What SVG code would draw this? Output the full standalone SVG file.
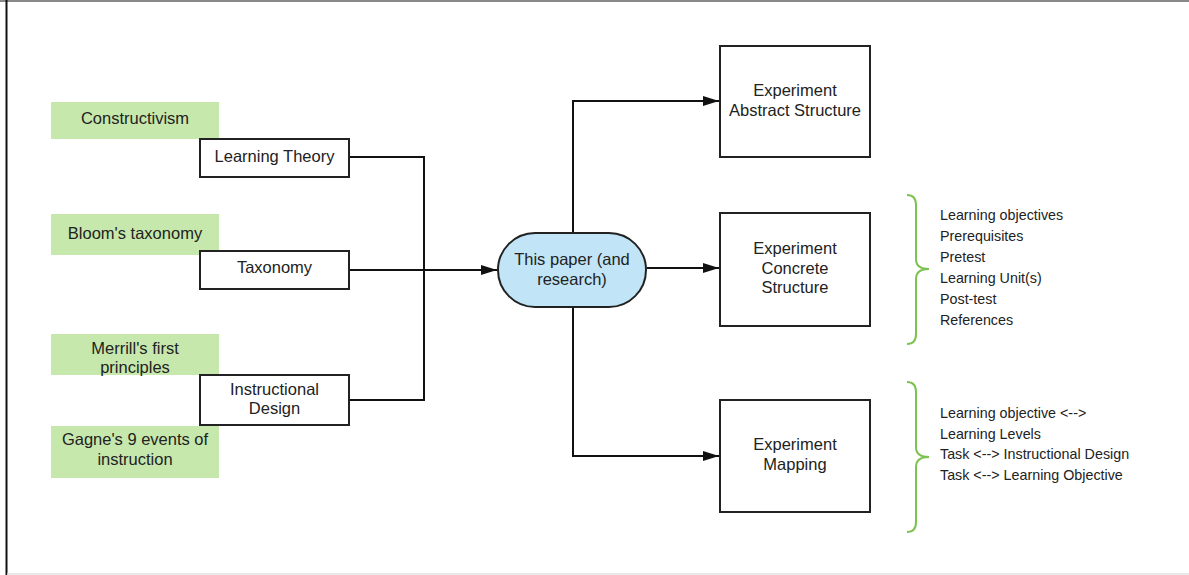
<svg xmlns="http://www.w3.org/2000/svg" width="1189" height="575" viewBox="0 0 1189 575">
<style>
  text { font-family: "Liberation Sans", Arial, sans-serif; fill: #222; }
  .t { font-size: 16.5px; text-anchor: middle; }
  .l { font-size: 14.3px; }
  .green { fill: #c7e8ac; stroke: none; }
  .box { fill: #fff; stroke: #222; stroke-width: 2; }
  .pill { fill: #c1e4f7; stroke: #222; stroke-width: 2; }
  .conn { fill: none; stroke: #111; stroke-width: 2; }
  .brace { fill: none; stroke: #7dc24f; stroke-width: 2; }
</style>
<defs>
  <marker id="arr" markerUnits="userSpaceOnUse" markerWidth="17" markerHeight="11" refX="16" refY="5" orient="auto">
    <path d="M0,0 L16,5 L0,10 z" fill="#111"/>
  </marker>
</defs>
<rect x="0" y="0" width="1189" height="575" fill="#fff"/>
<g id="frame">
  <line x1="0" y1="1" x2="1189" y2="1" stroke="#888" stroke-width="2"/>
  <line x1="6.5" y1="0" x2="6.5" y2="575" stroke="#111" stroke-width="2"/>
  <line x1="7" y1="574" x2="1189" y2="574" stroke="#e0e0e0" stroke-width="1.5"/>
</g>
<g id="connectors">
  <path class="conn" d="M349,157 H424 V400 H349"/>
  <path class="conn" d="M349,270 H497" marker-end="url(#arr)"/>
  <path class="conn" d="M573,233 V101 H719" marker-end="url(#arr)"/>
  <path class="conn" d="M647,268 H719" marker-end="url(#arr)"/>
  <path class="conn" d="M573,307 V456 H719" marker-end="url(#arr)"/>
</g>
<g id="constructivism">
  <rect class="green" x="51" y="102" width="168" height="37"/>
  <text class="t" x="135" y="124">Constructivism</text>
</g>
<g id="learning-theory">
  <rect class="box" x="200" y="139" width="149" height="38"/>
  <text class="t" x="274.5" y="162">Learning Theory</text>
</g>
<g id="blooms">
  <rect class="green" x="51" y="214" width="168" height="41"/>
  <text class="t" x="135" y="239">Bloom's taxonomy</text>
</g>
<g id="taxonomy">
  <rect class="box" x="200" y="251" width="149" height="38"/>
  <text class="t" x="274.5" y="273">Taxonomy</text>
</g>
<g id="merrill">
  <rect class="green" x="51" y="334" width="168" height="41"/>
  <text class="t" x="135" y="354">Merrill's first</text>
  <text class="t" x="135" y="373">principles</text>
</g>
<g id="instructional-design">
  <rect class="box" x="200" y="375" width="149" height="50"/>
  <text class="t" x="274.5" y="395">Instructional</text>
  <text class="t" x="274.5" y="414">Design</text>
</g>
<g id="gagne">
  <rect class="green" x="51" y="426" width="168" height="52"/>
  <text class="t" x="135" y="445">Gagne's 9 events of</text>
  <text class="t" x="135" y="465">instruction</text>
</g>
<g id="this-paper">
  <rect class="pill" x="498" y="233" width="148" height="74" rx="37" ry="37"/>
  <text class="t" x="572" y="265">This paper (and</text>
  <text class="t" x="572" y="285">research)</text>
</g>
<g id="abstract">
  <rect class="box" x="720" y="46" width="150" height="111"/>
  <text class="t" x="795" y="96">Experiment</text>
  <text class="t" x="795" y="116">Abstract Structure</text>
</g>
<g id="concrete">
  <rect class="box" x="720" y="213" width="150" height="113"/>
  <text class="t" x="795" y="254">Experiment</text>
  <text class="t" x="795" y="274">Concrete</text>
  <text class="t" x="795" y="293">Structure</text>
</g>
<g id="mapping">
  <rect class="box" x="720" y="400" width="150" height="112"/>
  <text class="t" x="795" y="450">Experiment</text>
  <text class="t" x="795" y="470">Mapping</text>
</g>
<g id="concrete-list">
  <path class="brace" d="M907,195 Q916,195 916,205 L916,259 Q916,269 929,269 Q916,269 916,279 L916,334 Q916,344 907,344"/>
  <text class="l" x="940" y="220">Learning objectives</text>
  <text class="l" x="940" y="241">Prerequisites</text>
  <text class="l" x="940" y="262">Pretest</text>
  <text class="l" x="940" y="283">Learning Unit(s)</text>
  <text class="l" x="940" y="304">Post-test</text>
  <text class="l" x="940" y="325">References</text>
</g>
<g id="mapping-list">
  <path class="brace" d="M907,382 Q916,382 916,392 L916,447 Q916,457 929,457 Q916,457 916,467 L916,522 Q916,532 907,532"/>
  <text class="l" x="940" y="418">Learning objective &lt;--&gt;</text>
  <text class="l" x="940" y="439">Learning Levels</text>
  <text class="l" x="940" y="459">Task &lt;--&gt; Instructional Design</text>
  <text class="l" x="940" y="480">Task &lt;--&gt; Learning Objective</text>
</g>
</svg>
